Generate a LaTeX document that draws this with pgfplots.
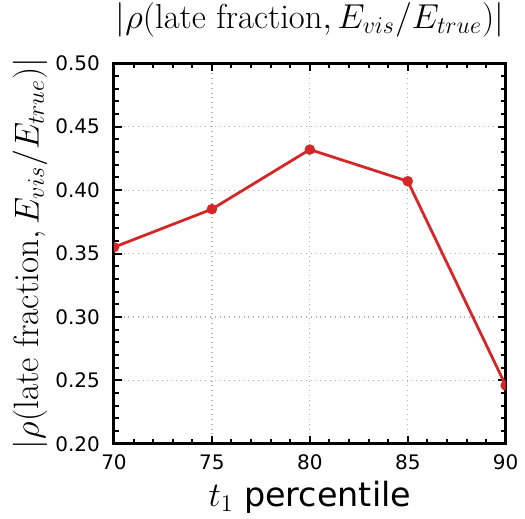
\documentclass[border=0pt]{standalone}
\usepackage{pgfplots}
\pgfplotsset{compat=1.18}
\usepackage[no-math]{fontspec}
\setmainfont{DejaVu Sans}
\newfontfamily\lmr{Latin Modern Roman}
\definecolor{myred}{RGB}{214,39,40}
\begin{document}
\begin{tikzpicture}
\begin{axis}[
  name=ax,
  width=195.9pt, height=190.3pt, scale only axis,
  xmin=70, xmax=90, ymin=0.2, ymax=0.5,
  xtick={70,75,80,85,90},
  ytick={0.20,0.25,0.30,0.35,0.40,0.45,0.50},
  minor x tick num=4, minor y tick num=4,
  tick pos=both, tick align=inside,
  /pgf/number format/assume math mode=true,
  tick label style={font=\fontsize{10}{12}\selectfont},
  xticklabel style={yshift=-2pt},
  yticklabel style={/pgf/number format/fixed, /pgf/number format/fixed zerofill, /pgf/number format/precision=2, xshift=-3.5pt},
  tickwidth=4pt, subtickwidth=2.3pt,
  every tick/.style={black, line width=1pt},
  axis line style={line width=1.5pt},
  xmajorgrids, ymajorgrids,
  major grid style={dotted, gray!60, line width=0.6pt},
  title={$|\rho(\mbox{\lmr late fraction}, E_{vis}/E_{true})|$},
  title style={font=\fontsize{17.3}{20}\selectfont, at={(axis description cs:0.5,1.082)}, anchor=center},
  xlabel={$t_1$ percentile},
  xlabel style={font=\fontsize{16.7}{20}\selectfont, at={(axis description cs:0.5,-0.1393)}, anchor=center},
  ylabel={$|\rho(\mbox{\lmr late fraction}, E_{vis}/E_{true})|$},
  ylabel style={font=\fontsize{17.6}{21}\selectfont, at={(axis description cs:-0.2144,0.5)}, anchor=center},
  clip marker paths=true,
]
\addplot[myred, line width=1.4pt, mark=*, mark size=1.9pt, mark options={solid, fill=myred, draw=myred}]
coordinates {(70,0.355) (75,0.385) (80,0.432) (85,0.407) (90,0.246)};
\end{axis}
\pgfresetboundingbox
\path ([xshift=-57pt,yshift=-37.5pt]ax.south west) rectangle ([xshift=9.65pt,yshift=31.65pt]ax.north east);
\end{tikzpicture}
\end{document}
